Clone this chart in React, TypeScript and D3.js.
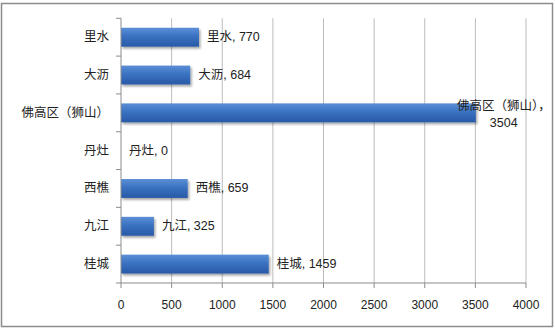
import React from "react";
import * as d3 from "d3";

const categories = ["里水", "大沥", "佛高区（狮山）", "丹灶", "西樵", "九江", "桂城"];
const values = [770, 684, 3504, 0, 659, 325, 1459];
const xTicks = [0, 500, 1000, 1500, 2000, 2500, 3000, 3500, 4000];

const W = 555;
const H = 329;
const plot = { left: 121, right: 526, top: 18.3, bottom: 283 };
const cjk = "'Liberation Sans', 'Noto Sans CJK SC', sans-serif";

export default function App() {
  const x = d3.scaleLinear().domain([0, 4000]).range([plot.left, plot.right]);
  const y = d3
    .scaleBand<string>()
    .domain(categories)
    .range([plot.top, plot.bottom])
    .paddingInner(0.5)
    .paddingOuter(0.25);
  const bandStep = y.step();
  const boundaries = d3.range(categories.length + 1).map((i) => plot.top + i * bandStep);

  return (
    <svg
      width={W}
      height={H}
      style={{ position: "absolute", left: 0, top: 0, background: "#fff" }}
    >
      <defs>
        <linearGradient id="barGrad" x1="0" y1="0" x2="0" y2="1">
          <stop offset="0" stopColor="#5b8fd6" />
          <stop offset="0.45" stopColor="#3a72c2" />
          <stop offset="1" stopColor="#2759a6" />
        </linearGradient>
        <filter id="shadow" x="-5%" y="-30%" width="115%" height="180%">
          <feDropShadow dx="1.5" dy="2" stdDeviation="1.3" floodColor="#000" floodOpacity="0.35" />
        </filter>
      </defs>
      <rect x={1.5} y={3.5} width={551} height={323} fill="#fff" stroke="#8c8c8c" strokeWidth={1.5} />

      {/* gridlines */}
      {xTicks.slice(1).map((t) => (
        <line key={"g" + t} x1={x(t)} x2={x(t)} y1={plot.top} y2={plot.bottom} stroke="#bcbcbc" strokeWidth={1} />
      ))}

      {/* bars */}
      {categories.map((c, i) => (
        <rect
          key={"b" + c}
          x={x(0)}
          y={y(c)!}
          width={Math.max(0, x(values[i]) - x(0))}
          height={y.bandwidth()}
          fill="url(#barGrad)"
          filter={values[i] > 0 ? "url(#shadow)" : undefined}
        />
      ))}

      {/* axes */}
      <line x1={plot.left} x2={plot.left} y1={plot.top} y2={plot.bottom} stroke="#8c8c8c" />
      {boundaries.map((b, i) => (
        <line key={"yt" + i} x1={plot.left - 5} x2={plot.left} y1={b} y2={b} stroke="#8c8c8c" />
      ))}
      <line x1={plot.left} x2={plot.right} y1={plot.bottom} y2={plot.bottom} stroke="#8c8c8c" />
      {xTicks.map((t) => (
        <line key={"xt" + t} x1={x(t)} x2={x(t)} y1={plot.bottom} y2={plot.bottom + 5} stroke="#8c8c8c" />
      ))}
      {xTicks.map((t) => (
        <text
          key={"xl" + t}
          x={x(t)}
          y={305}
          textAnchor="middle"
          dominantBaseline="central"
          fontSize={12}
          fontFamily={cjk}
          fill="#222"
        >
          {t}
        </text>
      ))}

      {/* category labels */}
      {categories.map((c) => (
        <text
          key={"cl" + c}
          x={109}
          y={y(c)! + y.bandwidth() / 2}
          textAnchor="end"
          dominantBaseline="central"
          fontSize={12.5}
          fontFamily={cjk}
          fill="#222"
        >
          {c}
        </text>
      ))}

      {/* data labels */}
      {categories.map((c, i) => {
        const cy = y(c)! + y.bandwidth() / 2;
        const v = values[i];
        if (v > 3000) {
          const cx = x(v) + 28;
          return (
            <text key={"dl" + c} textAnchor="middle" fontSize={12.5} fontFamily={cjk} fill="#222">
              <tspan x={cx} y={cy - 7} dominantBaseline="central">{c + "，"}</tspan>
              <tspan x={cx} y={cy + 10} dominantBaseline="central">{String(v)}</tspan>
            </text>
          );
        }
        return (
          <text
            key={"dl" + c}
            x={x(v) + 8}
            y={cy}
            dominantBaseline="central"
            fontSize={12.5}
            fontFamily={cjk}
            fill="#222"
          >
            {c + ", " + v}
          </text>
        );
      })}
    </svg>
  );
}
